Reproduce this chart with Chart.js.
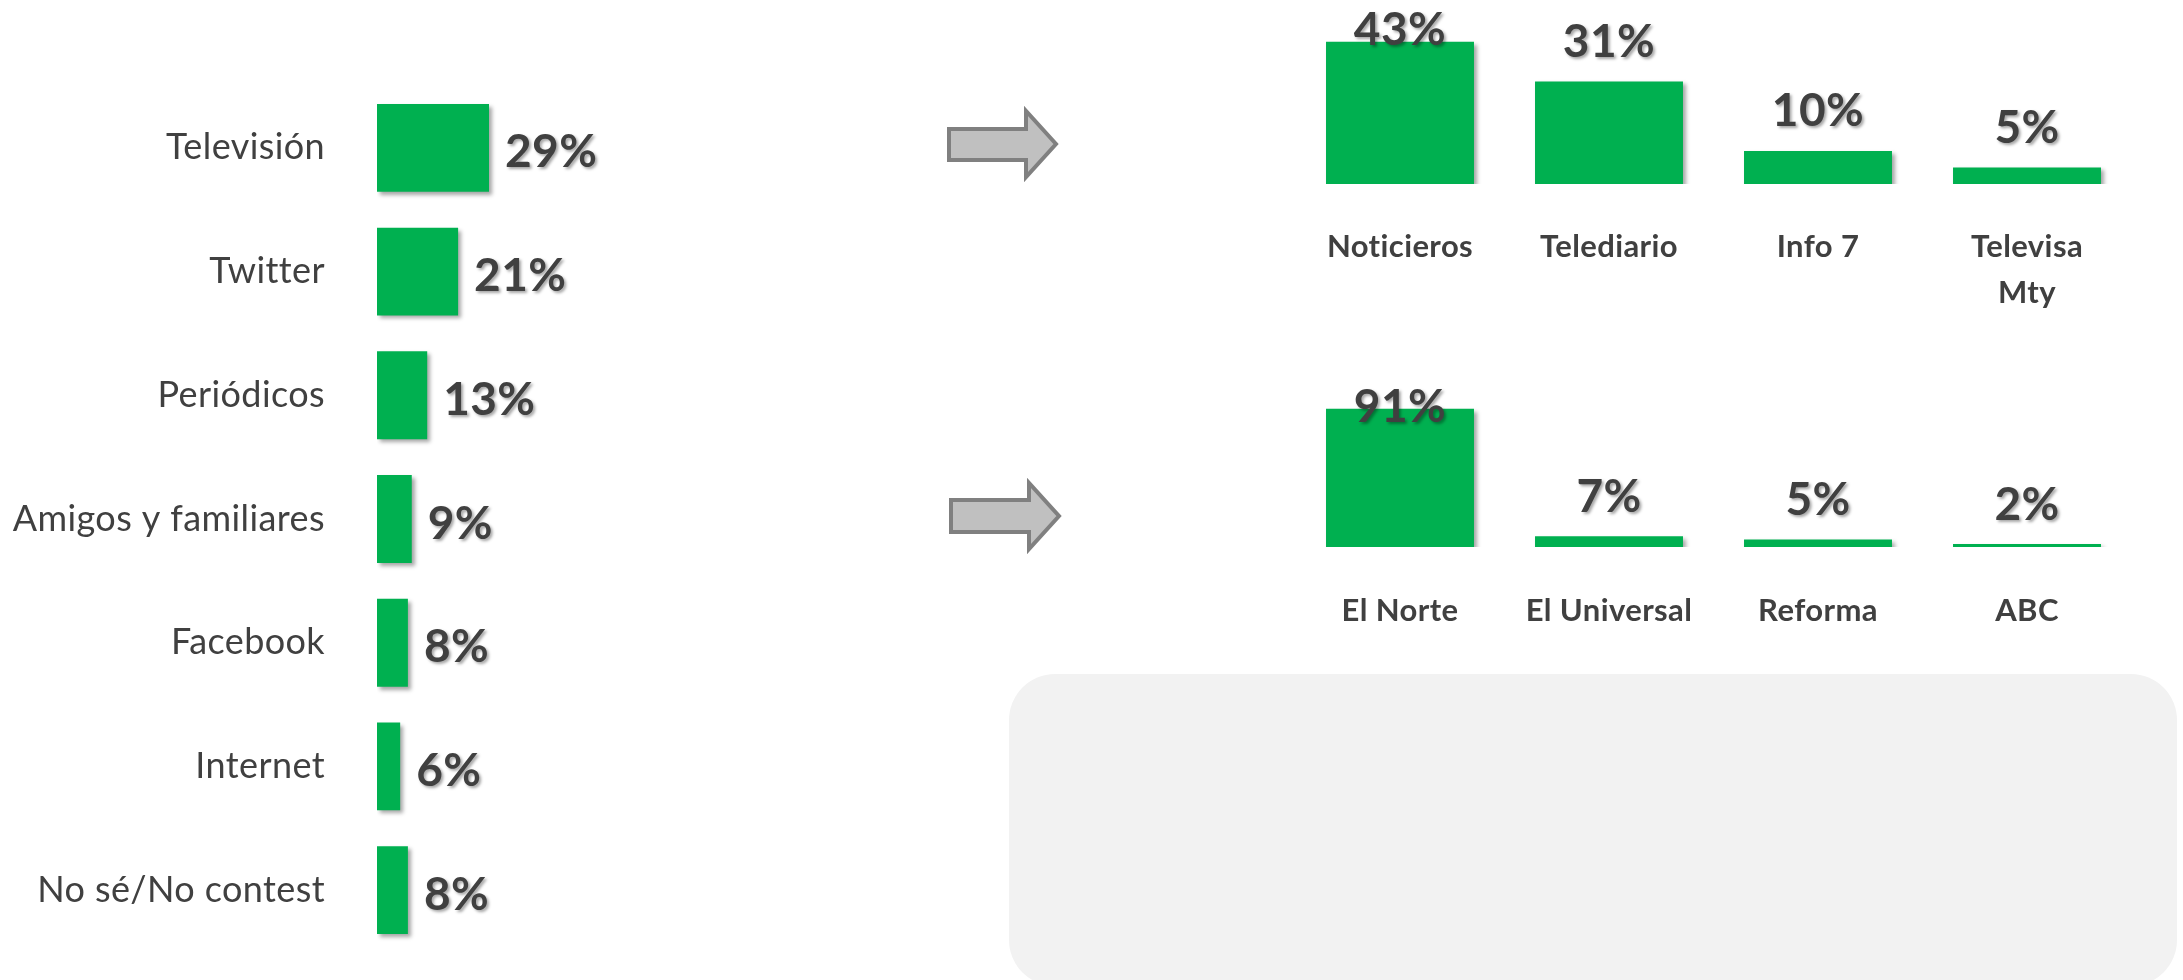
<!DOCTYPE html>
<html><head><meta charset="utf-8">
<script src="https://cdn.jsdelivr.net/npm/chart.js@4"></script>
<style>
html,body{margin:0;padding:0;background:#fff;width:2183px;height:980px;overflow:hidden;position:relative;font-family:Lato,sans-serif}
canvas,svg{position:absolute}
#box{position:absolute;left:1009px;top:674px;width:1168px;height:312px;background:#F2F2F2;border-radius:46px}
</style></head><body>
<div id="box"></div>
<svg style="left:0;top:0" width="2183" height="980">
  <polygon points="949,129 1026,129 1026,111 1056,144 1026,177 1026,160 949,160" fill="#C0C0C0" stroke="#808080" stroke-width="4" stroke-linejoin="miter"/>
  <polygon points="951,500 1029,500 1029,483 1059,516 1029,549 1029,532 951,532" fill="#C0C0C0" stroke="#808080" stroke-width="4" stroke-linejoin="miter"/>
</svg>
<canvas id="cFuente" width="686" height="980" style="left:0;top:0"></canvas>
<canvas id="cTv" width="983" height="330" style="left:1200px;top:0"></canvas>
<canvas id="cPer" width="983" height="320" style="left:1200px;top:340px"></canvas>
<script>
const fuenteCategorias = ['Televisión','Twitter','Periódicos','Amigos y familiares','Facebook','Internet','No sé/No contest'];
const fuenteValores = [29,21,13,9,8,6,8];
const tvCategorias = ['Noticieros','Telediario','Info 7',['Televisa','Mty']];
const tvValores = [43,31,10,5];
const periodicoCategorias = ['El Norte','El Universal','Reforma','ABC'];
const periodicoValores = [91,7,5,2];

const GREEN = '#00B050';
const TEXT = '#404040';

const labelPlugin = {
  id: 'valueLabels',
  beforeDraw(chart) {
    chart.ctx.letterSpacing = '0.4px';
  },
  beforeDatasetsDraw(chart) {
    const ctx = chart.ctx;
    ctx.save();
    ctx.shadowColor = 'rgba(0,0,0,0.35)';
    ctx.shadowOffsetX = 3;
    ctx.shadowOffsetY = 3;
    ctx.shadowBlur = 4;
  },
  afterDatasetsDraw(chart) {
    const ctx = chart.ctx;
    ctx.restore();
    const meta = chart.getDatasetMeta(0);
    const vals = chart.data.datasets[0].data;
    const horizontal = chart.options.indexAxis === 'y';
    ctx.save();
    ctx.font = 'bold 46px Lato';
    ctx.fillStyle = TEXT;
    ctx.shadowColor = 'rgba(0,0,0,0.35)';
    ctx.shadowOffsetX = 2;
    ctx.shadowOffsetY = 2;
    ctx.shadowBlur = 3;
    ctx.textBaseline = 'alphabetic';
    const cap = 46 * 0.72;
    meta.data.forEach((bar, i) => {
      const t = vals[i] + '%';
      if (horizontal) {
        ctx.textAlign = 'left';
        ctx.fillText(t, bar.x + 16, bar.y + 3 + cap / 2);
      } else {
        ctx.textAlign = 'center';
        const cy = Math.max(bar.y - 41, chart.chartArea.top + 10);
        ctx.fillText(t, bar.x, cy + cap / 2);
      }
    });
    ctx.restore();
  }
};

const common = {
  responsive: false,
  animation: false,
  plugins: { legend: { display: false }, tooltip: { enabled: false } }
};

new Chart(document.getElementById('cFuente'), {
  type: 'bar',
  data: { labels: fuenteCategorias, datasets: [{ data: fuenteValores, backgroundColor: GREEN, borderWidth: 0, categoryPercentage: 1, barPercentage: 0.71 }] },
  options: Object.assign({}, common, {
    indexAxis: 'y',
    layout: { padding: { top: 86, bottom: 28, left: 0, right: 0 } },
    scales: {
      x: { display: false, min: 0, max: 80 },
      y: {
        grid: { display: false }, border: { display: false },
        ticks: { font: { family: 'Lato', size: 36 }, color: TEXT, padding: 44, autoSkip: false },
        afterFit(s) { s.width = 377; s.paddingTop = 0; s.paddingBottom = 0; }
      }
    }
  }),
  plugins: [labelPlugin]
});

function vertical(id, labels, values, max, padTop, axisH, tickPad) {
  new Chart(document.getElementById(id), {
    type: 'bar',
    data: { labels: labels, datasets: [{ data: values, backgroundColor: GREEN, borderWidth: 0, categoryPercentage: 1, barPercentage: 0.708 }] },
    options: Object.assign({}, common, {
      layout: { padding: { top: padTop, bottom: 0, left: 95.5, right: 51.5 } },
      scales: {
        y: { display: false, min: 0, max: max },
        x: {
          grid: { display: false }, border: { display: false },
          ticks: { font: { family: 'Lato', size: 31, weight: 'bold', lineHeight: 1.5 }, color: TEXT, padding: tickPad, maxRotation: 0, autoSkip: false },
          afterFit(s) { s.height = axisH; s.paddingLeft = 0; s.paddingRight = 0; }
        }
      }
    }),
    plugins: [labelPlugin]
  });
}
vertical('cTv', tvCategorias, tvValores, 50, 18.5, 146, 31.5);
vertical('cPer', periodicoCategorias, periodicoValores, 100, 55, 113, 32.5);
</script>
</body></html>
